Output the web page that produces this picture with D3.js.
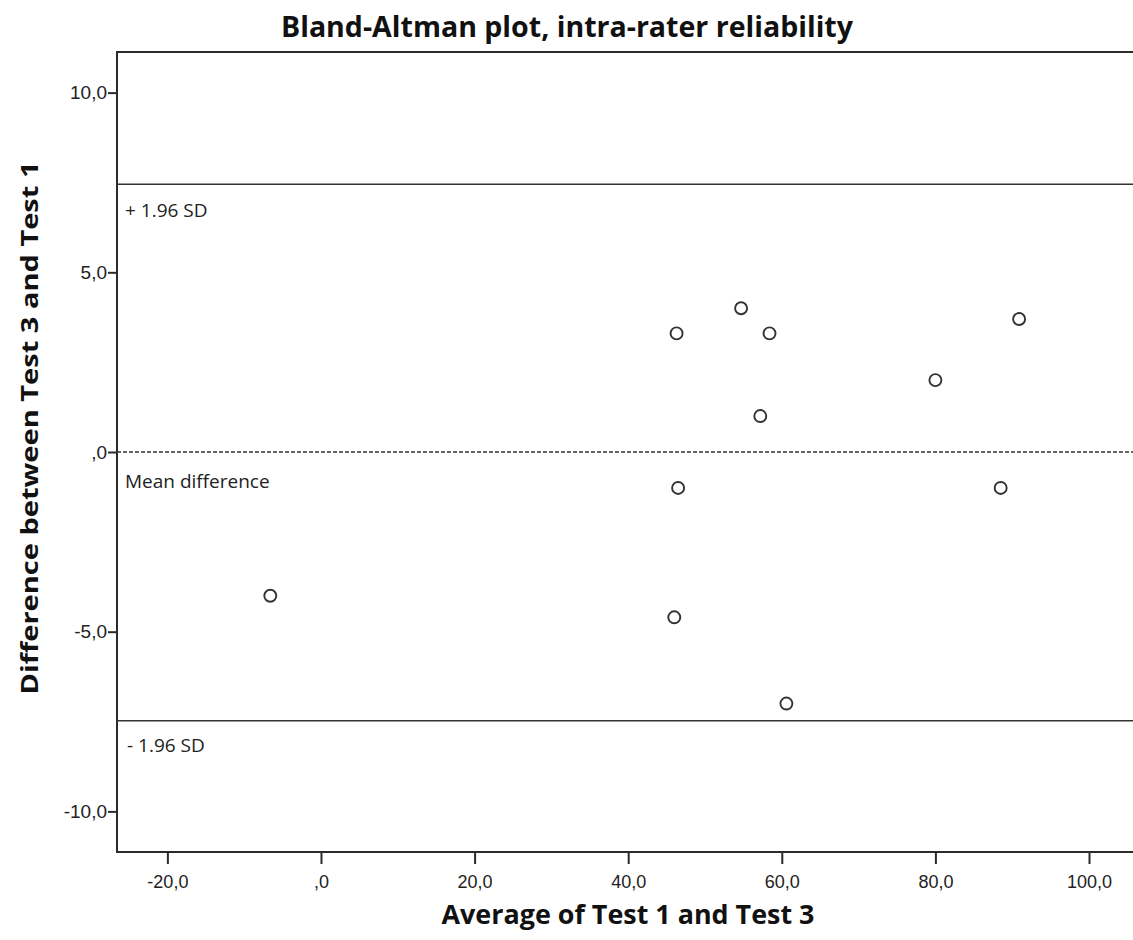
<!DOCTYPE html>
<html>
<head>
<meta charset="utf-8">
<script src="https://cdn.jsdelivr.net/npm/d3@7"></script>
<style>
  html, body { margin: 0; padding: 0; background: #fff; }
  svg { display: block; }
</style>
</head>
<body>
<svg id="chart" width="1133" height="940"></svg>
<script>
// ---- data ----
const averages = [-6.6, 46.3, 54.7, 58.4, 57.2, 80.0, 90.9, 88.5, 46.5, 46.0, 60.6];
const differences = [-4.0, 3.3, 4.0, 3.3, 1.0, 2.0, 3.7, -1.0, -1.0, -4.6, -7.0];
const meanDiff = 0.0;
const upperLimit = 7.45;
const lowerLimit = -7.48;
const xTicks = [-20, 0, 20, 40, 60, 80, 100];
const yTicks = [-10, -5, 0, 5, 10];
const xDomain = [-26.56, 106.64];
const yDomain = [-11.13, 11.13];
const titleText = "Bland-Altman plot, intra-rater reliability";
const xLabel = "Average of Test 1 and Test 3";
const yLabel = "Difference between Test 3 and Test 1";
const lineLabels = [
  { value: upperLimit, text: "+ 1.96 SD" },
  { value: meanDiff, text: "Mean difference" },
  { value: lowerLimit, text: "- 1.96 SD" }
];

(function () {
// ---- layout ----
const svg = d3.select("#chart");
const mLeft = 117, mTop = 52, mBottom = 852, mRight = 1140;
const ink = "#2b2b2b";

const x = d3.scaleLinear().domain(xDomain).range([mLeft, mRight]);
const y = d3.scaleLinear().domain(yDomain).range([mBottom, mTop]);

const fmt = v => {
  if (v === 0) return ",0";
  return v.toFixed(1).replace(".", ",");
};

// frame
svg.append("rect")
  .attr("x", mLeft).attr("y", mTop)
  .attr("width", mRight - mLeft).attr("height", mBottom - mTop)
  .attr("fill", "none").attr("stroke", ink).attr("stroke-width", 2);

// reference lines
svg.append("line")
  .attr("x1", mLeft).attr("x2", mRight)
  .attr("y1", y(upperLimit)).attr("y2", y(upperLimit))
  .attr("stroke", "#333").attr("stroke-width", 1.6);
svg.append("line")
  .attr("x1", mLeft).attr("x2", mRight)
  .attr("y1", y(lowerLimit)).attr("y2", y(lowerLimit))
  .attr("stroke", "#333").attr("stroke-width", 1.6);
svg.append("line")
  .attr("x1", mLeft).attr("x2", mRight)
  .attr("y1", y(meanDiff)).attr("y2", y(meanDiff))
  .attr("stroke", "#333").attr("stroke-width", 1.3)
  .attr("stroke-dasharray", "4,2");

// line labels
const labOffsets = [33, 36, 31];
svg.selectAll("text.linelab").data(lineLabels).join("text")
  .attr("class", "linelab")
  .attr("x", (d, i) => i === 2 ? 127 : 125)
  .attr("y", (d, i) => y(d.value) + labOffsets[i])
  .attr("font-family", "'Open Sans', 'Noto Sans', sans-serif")
  .attr("font-size", 19)
  .attr("fill", "#222")
  .text(d => d.text);

// axes
const xAxis = d3.axisBottom(x).tickValues(xTicks).tickFormat(fmt).tickSize(12).tickSizeOuter(0);
const gx = svg.append("g").attr("transform", `translate(0,${mBottom})`).call(xAxis);
gx.select(".domain").remove();
gx.selectAll(".tick line").attr("stroke", ink).attr("stroke-width", 2);
gx.selectAll(".tick text")
  .attr("font-family", "'Liberation Sans', Arial, sans-serif")
  .attr("font-size", 18).attr("fill", "#222").attr("dy", "1.15em");

const yAxis = d3.axisLeft(y).tickValues(yTicks).tickFormat(fmt).tickSize(9).tickSizeOuter(0);
const gy = svg.append("g").attr("transform", `translate(${mLeft},0)`).call(yAxis);
gy.select(".domain").remove();
gy.selectAll(".tick line").attr("stroke", ink).attr("stroke-width", 2);
gy.selectAll(".tick text")
  .attr("font-family", "'Liberation Sans', Arial, sans-serif")
  .attr("font-size", 19).attr("fill", "#222").attr("x", -10);

// points
svg.selectAll("circle.pt").data(averages.map((a, i) => [a, differences[i]])).join("circle")
  .attr("class", "pt")
  .attr("cx", d => x(d[0])).attr("cy", d => y(d[1]))
  .attr("r", 6)
  .attr("fill", "none").attr("stroke", "#333").attr("stroke-width", 1.9);

// title
svg.append("text")
  .attr("x", 567).attr("y", 37)
  .attr("text-anchor", "middle")
  .attr("font-family", "'Open Sans', 'Noto Sans', sans-serif")
  .attr("font-weight", "bold").attr("font-size", 28)
  .attr("textLength", 572).attr("lengthAdjust", "spacingAndGlyphs")
  .attr("fill", "#111")
  .text(titleText);

// x label
svg.append("text")
  .attr("x", 628).attr("y", 924)
  .attr("text-anchor", "middle")
  .attr("font-family", "'Open Sans', 'Noto Sans', sans-serif")
  .attr("font-weight", "bold").attr("font-size", 27)
  .attr("textLength", 373).attr("lengthAdjust", "spacingAndGlyphs")
  .attr("fill", "#111")
  .text(xLabel);

// y label
svg.append("text")
  .attr("transform", "translate(38,428) rotate(-90)")
  .attr("text-anchor", "middle")
  .attr("font-family", "'Open Sans', 'Noto Sans', sans-serif")
  .attr("font-weight", "bold").attr("font-size", 24)
  .attr("textLength", 533).attr("lengthAdjust", "spacingAndGlyphs")
  .attr("fill", "#111")
  .text(yLabel);
})();
</script>
</body>
</html>
